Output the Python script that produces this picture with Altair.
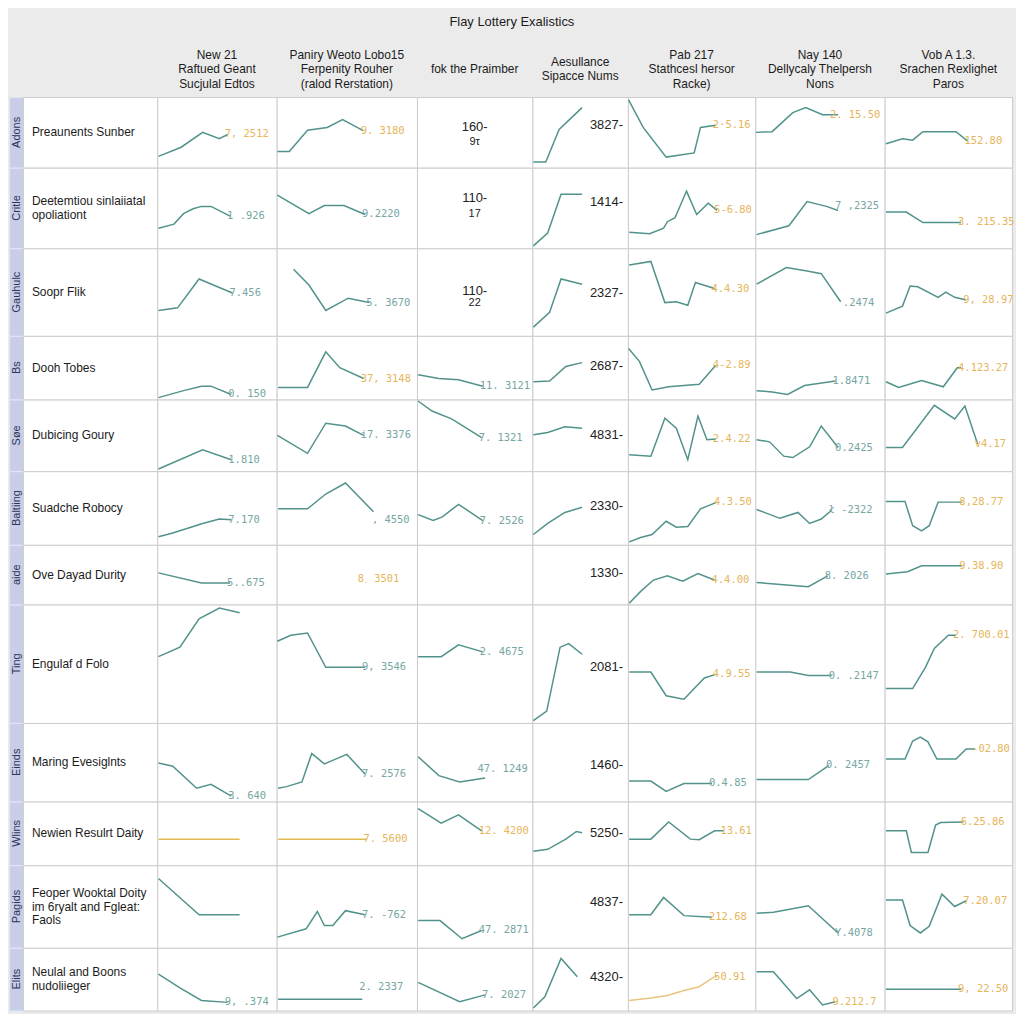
import altair as alt
import pandas as pd

TITLE = "Flay Lottery Exalistics"

COL_HEADERS = [
    ["New 21", "Raftued Geant", "Sucjulal Edtos"],
    ["Paniry Weoto Lobo15", "Ferpenity Rouher", "(ralod Rerstation)"],
    ["fok the Praimber"],
    ["Aesullance", "Sipacce Nums"],
    ["Pab 217", "Stathcesl hersor", "Racke)"],
    ["Nay 140", "Dellycaly Thelpersh", "Nons"],
    ["Vob A 1.3.", "Srachen Rexlighet", "Paros"],
]

STRIP_LABELS = ["Adons", "Critle", "Gauhulc", "Bs", "Søe", "Baltiing",
                "aide", "Ting", "Einds", "Wlins", "Pagids", "Elits"]

ROW_LABELS = [
    ["Preaunents Sunber"],
    ["Deetemtiou sinlaiiatal", "opoliationt"],
    ["Soopr Flik"],
    ["Dooh Tobes"],
    ["Dubicing Goury"],
    ["Suadche Robocy"],
    ["Ove Dayad Durity"],
    ["Engulaf d Folo"],
    ["Maring Evesiglnts"],
    ["Newien Resulrt Daity"],
    ["Feoper Wooktal Doity", "im 6ryalt and Fgleat:", "Faols"],
    ["Neulal and Boons", "nudoliieger"],
]

# ---- sparkline values: (period, level) per row, one list per column ----
C1_LINES = [
    [(1, 16), (20, 29), (38, 50), (52, 41), (59, 47)],
    [(1, 25), (14, 30), (22, 43), (30, 49), (37, 52), (45, 52), (61, 40)],
    [(1, 29), (17, 32), (35, 65), (63, 49)],
    [(1, 3), (22, 14), (37, 21), (45, 21), (62, 8)],
    [(1, 3), (38, 30), (62, 16)],
    [(1, 11), (13, 16), (38, 29), (52, 35), (62, 34)],
    [(1, 53), (37, 36), (61, 36)],
    [(1, 56), (19, 64), (35, 88), (52, 97), (69, 93)],
    [(1, 49), (13, 45), (33, 17), (45, 22), (62, 7)],
    [(1, 41), (69, 41)],
    [(1, 84), (35, 40), (69, 40)],
    [(1, 58), (19, 36), (37, 16), (59, 13)],
]
C1_TEXT = ["7, 2512", "1 .926", "7.456", "0. 150", "1.810", "7.170",
           "5..675", "", "3. 640", "", "", "9, .374"]
C1_TONE = "ottttttotoot"

C2_LINES = [
    [(0.5, 23), (9, 23), (22, 53), (36, 57), (47, 68), (62, 52)],
    [(0.5, 66), (23, 43), (34, 53), (48, 53), (63, 42)],
    [(12, 76), (23, 58), (35, 29), (51, 43), (66, 38)],
    [(1, 19), (22, 19), (35, 75), (45, 50), (62, 33)],
    [(0.5, 50), (22, 25), (35, 67), (49, 63), (62, 50)],
    [(1, 49), (22, 49), (35, 69), (49, 84), (69, 45)],
    [],
    [(0.5, 69), (10, 74), (22, 76), (35, 47), (63, 47)],
    [(1, 17), (7, 19), (18, 25), (25, 61), (34, 48), (50, 60), (63, 35)],
    [(1, 41), (64, 41)],
    [(0.5, 13), (21, 23), (29, 44), (34, 27), (40, 27), (49, 45), (63, 40)],
    [(1, 18), (61, 18)],
]
C2_TEXT = ["9. 3180", "9.2220", "5. 3670", "37, 3148", "i7. 3376", ", 4550",
           "8、3501", "9, 3546", "7. 2576", "7. 5600", "7. -762", "2. 2337"]
C2_TONE = "ottottottott"

C3_NOTES = [("160-", "9τ"), ("110-", "17"), ("110-", "22")]
C3_NOTE_LEVELS = [(58, 37), (62, 43), (51, 37)]
C3_LINES = [
    [], [], [],
    [(1, 39), (19, 33), (36, 31), (57, 21)],
    [(1, 98), (13, 84), (30, 73), (56, 47)],
    [(1, 41), (14, 33), (22, 38), (36, 55), (57, 33)],
    [],
    [(1, 56), (21, 56), (36, 66), (57, 60)],
    [(1, 57), (19, 33), (37, 25), (59, 30)],
    [(1, 89), (21, 66), (36, 79), (56, 54)],
    [(1, 33), (20, 33), (39, 11), (56, 21)],
    [(1, 45), (37, 14), (59, 25)],
]
C3_TEXT = ["", "", "", "11. 3121", "7. 1321", "7. 2526", "", "2. 4675",
           "47. 1249", "12. 4200", "47. 2871", "7. 2027"]
C3_TONE = "tttttttttott"

C4_LINES = [
    [(1, 8), (14, 8), (28, 54), (52, 85)],
    [(1, 3), (16, 19), (30, 67), (52, 67)],
    [(1, 10), (18, 27), (30, 65), (52, 59)],
    [(1, 28), (18, 29), (35, 52), (52, 58)],
    [(1, 51), (16, 54), (34, 62), (52, 60)],
    [(1, 14), (16, 29), (34, 44), (52, 51)],
    [],
    [(1, 2), (15, 10), (29, 64), (38, 67), (52, 58)],
    [],
    [(1, 22), (16, 25), (35, 41), (46, 53), (52, 51)],
    [],
    [(1, 4), (13, 22), (30, 83), (47, 54)],
]
C4_TICKS = ["3827-", "1414-", "2327-", "2687-", "4831-", "2330-",
            "1330-", "2081-", "1460-", "5250-", "4837-", "4320-"]
C4_TICK_LEVELS = [61, 58, 49, 53, 51, 53, 52, 47, 47, 50, 56, 54]

C5_LINES = [
    [(0.5, 96), (12, 57), (30, 15), (52, 21), (57, 57), (69, 60)],
    [(1, 20), (17, 18), (28, 25), (31, 33), (37, 38), (46, 71), (54, 42), (63, 56), (70, 47)],
    [(1, 81), (18, 85), (29, 38), (38, 39), (47, 35), (53, 61), (68, 54)],
    [(0.5, 80), (9, 60), (19, 15), (32, 20), (56, 24), (69, 54)],
    [(1, 23), (18, 21), (29, 74), (38, 60), (47, 16), (55, 77), (62, 44), (69, 45)],
    [(1, 4), (10, 10), (19, 14), (30, 32), (38, 24), (47, 25), (57, 49), (70, 58)],
    [(1, 2), (10, 22), (20, 41), (31, 48), (43, 39), (55, 52), (68, 41)],
    [(1, 43), (18, 43), (30, 23), (44, 20), (60, 38), (69, 41)],
    [(1, 26), (18, 26), (30, 13), (44, 23), (66, 23)],
    [(1, 41), (18, 41), (32, 68), (49, 41), (56, 40), (68, 54), (75, 54)],
    [(1, 40), (18, 40), (28, 61), (44, 39), (66, 37)],
    [(1, 16), (18, 20), (31, 24), (44, 32), (56, 38), (68, 54), (70, 54)],
]
C5_TEXT = ["2·5.16", "5-6.80", "4.4.30", "4-2.89", "2.4.22", "4.3.50",
           "4.4.00", "4.9.55", "0.4.85", "13.61", "212.68", "50.91"]
C5_TONE = "oooooooottooo"[:8] + "tooo"

C6_LINES = [
    [(0.5, 50), (13, 51), (29, 78), (39, 85), (52, 75), (64, 75)],
    [(1, 17), (26, 28), (40, 58), (55, 52), (64, 47)],
    [(1, 59), (24, 78), (40, 74), (51, 71), (66, 39)],
    [(1, 14), (13, 12), (25, 8), (38, 22), (62, 29)],
    [(1, 44), (11, 41), (22, 21), (29, 19), (42, 34), (51, 63), (64, 33)],
    [(1, 48), (19, 36), (33, 44), (42, 29), (51, 35), (59, 47)],
    [(1, 37), (41, 30), (56, 48)],
    [(1, 43), (27, 43), (41, 40), (59, 40)],
    [(1, 28), (41, 28), (57, 46)],
    [],
    [(1, 42), (14, 43), (41, 51), (64, 18)],
    [(1, 62), (14, 62), (32, 19), (42, 33), (52, 9), (62, 14)],
]
C6_TEXT = ["2. 15.50", "7 ,2325", ".2474", "1.8471", "0.2425", "ł -2322",
           "8. 2026", "0. .2147", "0. 2457", "", "Y.4078", "9.212.7"]
C6_TONE = "otttttttttto"

C7_LINES = [
    [(1, 34), (14, 41), (22, 39), (30, 51), (56, 51), (65, 38)],
    [(1, 45), (17, 45), (30, 32), (60, 32)],
    [(1, 26), (14, 34), (20, 57), (26, 56), (42, 44), (48, 50), (55, 44), (64, 41)],
    [(1, 28), (11, 19), (29, 30), (46, 20), (57, 50), (60, 50)],
    [(1, 33), (14, 33), (39, 92), (55, 73), (63, 91), (73, 38)],
    [(1, 59), (16, 59), (22, 26), (29, 19), (35, 26), (42, 58), (61, 58)],
    [(1, 51), (18, 55), (29, 65), (61, 65)],
    [(1, 29), (22, 29), (32, 47), (39, 63), (50, 74), (56, 74)],
    [(1, 54), (16, 54), (22, 77), (28, 82), (34, 76), (41, 54), (56, 54), (64, 67), (71, 67)],
    [(1, 54), (17, 54), (21, 20), (34, 20), (40, 63), (44, 67), (62, 68)],
    [(1, 58), (14, 58), (20, 27), (28, 18), (35, 26), (45, 65), (55, 50), (64, 57)],
    [(1, 34), (60, 34)],
]
C7_TEXT = ["152.80", "3. 215.35", "9, 28.97", "4.123.27", "v4.17", "8,28.77",
           "9.38.90", "2. 700.01", "-02.80", "6.25.86", "7.20.07", "9, 22.50"]
C7_TONE = "oooooooooooo"

# label anchors that do not sit on the last point: (row, col) -> (period, level)
LABEL_AT = {(6, 1): (60, 42), (11, 1): (61, 37), (5, 1): (70, 34),
            (2, 5): (70, 37), (8, 2): (55, 42), (1, 5): (64, 53),
            (0, 5): (60, 74)}
ORANGE_LINES = {(9, 0): "#e1bb50", (9, 1): "#e1bb50", (11, 4): "#e9c47f"}

LINES = [C1_LINES, C2_LINES, C3_LINES, C4_LINES, C5_LINES, C6_LINES, C7_LINES]
TEXTS = [C1_TEXT, C2_TEXT, C3_TEXT, None, C5_TEXT, C6_TEXT, C7_TEXT]
TONES = [C1_TONE, C2_TONE, C3_TONE, None, C5_TONE, C6_TONE, C7_TONE]

# ---- layout / style ----
COL_W = [120, 141, 116, 96, 128, 130, 128]
ROW_H = [71, 81, 88, 64, 72, 74, 60, 119, 79, 64, 83, 63]
STRIP_W, LABEL_W, HEAD_H = 14, 135, 64
LINE_H = 14.5
GRID = "#cccccc"
TEAL = "#52928c"
TEAL_TXT = "#76a6a3"
ORANGE_TXT = "#e6b55a"
SANS = "Liberation Sans"
MONO = "DejaVu Sans Mono"

X = alt.X("t:Q", scale=alt.Scale(domain=[0, 100]), axis=None)
Y = alt.Y("v:Q", scale=alt.Scale(domain=[0, 100]), axis=None)
ONE = pd.DataFrame({"k": [0]})


def blank(w, h, fill, stroke):
    return alt.Chart(ONE).mark_text(text=" ").encode(
        x=alt.value(w / 2), y=alt.value(h / 2)
    ).properties(width=w, height=h, view=alt.ViewBackground(fill=fill, stroke=stroke))


def data_cell(r, c):
    w, h = COL_W[c], ROW_H[r]
    layers = []
    series = LINES[c][r]
    if series:
        df = pd.DataFrame(series, columns=["t", "v"])
        layers.append(alt.Chart(df).mark_line(
            color=ORANGE_LINES.get((r, c), TEAL), strokeWidth=1.5
        ).encode(x=X, y=Y))
    if c == 2 and r < 3:
        (a, b), (la, lb) = C3_NOTES[r], C3_NOTE_LEVELS[r]
        ndf = pd.DataFrame({"t": [50, 50], "v": [la, lb], "s": [a, b], "z": [13, 11]})
        layers.append(alt.Chart(ndf).mark_text(font=SANS, color="#222222", baseline="middle").encode(
            x=X, y=Y, text="s:N", size=alt.Size("z:Q", scale=None, legend=None)))
    if c == 3:
        tdf = pd.DataFrame({"t": [100], "v": [C4_TICK_LEVELS[r]], "s": [C4_TICKS[r]]})
        layers.append(alt.Chart(tdf).mark_text(
            font=SANS, fontSize=13, color="#222222", align="right", baseline="middle", dx=-5
        ).encode(x=X, y=Y, text="s:N"))
    elif TEXTS[c][r]:
        t, v = LABEL_AT.get((r, c), series[-1] if series else (50, 50))
        col = ORANGE_TXT if TONES[c][r] == "o" else TEAL_TXT
        ldf = pd.DataFrame({"t": [t], "v": [v], "s": [TEXTS[c][r]]})
        layers.append(alt.Chart(ldf).mark_text(
            font=MONO, fontSize=10.5, color=col, align="left", baseline="middle", dx=-3
        ).encode(x=X, y=Y, text="s:N"))
    if not layers:
        return blank(w, h, "white", GRID)
    return alt.layer(*layers).properties(
        width=w, height=h, view=alt.ViewBackground(fill="white", stroke=GRID))


def strip_cell(r):
    h = ROW_H[r]
    return alt.Chart(ONE).mark_text(
        text=STRIP_LABELS[r], angle=270, font=SANS, fontSize=11, color="#2d3352",
        align="center", baseline="middle"
    ).encode(x=alt.value(STRIP_W / 2 + 1), y=alt.value(h / 2)).properties(
        width=STRIP_W, height=h, view=alt.ViewBackground(fill="#c8cee8", stroke="#e4e6f2"))


def label_cell(r):
    h = ROW_H[r]
    n = len(ROW_LABELS[r])
    return alt.Chart(ONE).mark_text(
        text=ROW_LABELS[r], font=SANS, fontSize=12, color="#1c1c1c",
        align="left", baseline="middle", lineHeight=14
    ).encode(x=alt.value(9), y=alt.value(h / 2 - (n - 1) * 7)).properties(
        width=LABEL_W, height=h, view=alt.ViewBackground(fill="white", stroke=GRID))


def head_cell(c):
    n = len(COL_HEADERS[c])
    return alt.Chart(ONE).mark_text(
        text=COL_HEADERS[c], font=SANS, fontSize=12, color="#1c1c1c",
        align="center", baseline="middle", lineHeight=LINE_H
    ).encode(x=alt.value(COL_W[c] / 2), y=alt.value(36 - (n - 1) * LINE_H / 2)).properties(
        width=COL_W[c], height=HEAD_H,
        view=alt.ViewBackground(fill="transparent", stroke="transparent"))


cells = [blank(STRIP_W, HEAD_H, "transparent", "transparent"),
         blank(LABEL_W, HEAD_H, "transparent", "transparent")]
cells += [head_cell(c) for c in range(7)]
for r in range(12):
    cells += [strip_cell(r), label_cell(r)] + [data_cell(r, c) for c in range(7)]

chart = alt.concat(*cells, columns=9, spacing=0, bounds="flush").properties(
    title=alt.TitleParams(TITLE, font=SANS, fontSize=13, fontWeight="normal",
                          color="#1c1c1c", anchor="middle", offset=4),
    padding={"left": 0, "top": 5, "right": 0, "bottom": 0},
    background="#ebebeb",
)

chart.save("out.html", embed_options={"renderer": "svg", "actions": False})
